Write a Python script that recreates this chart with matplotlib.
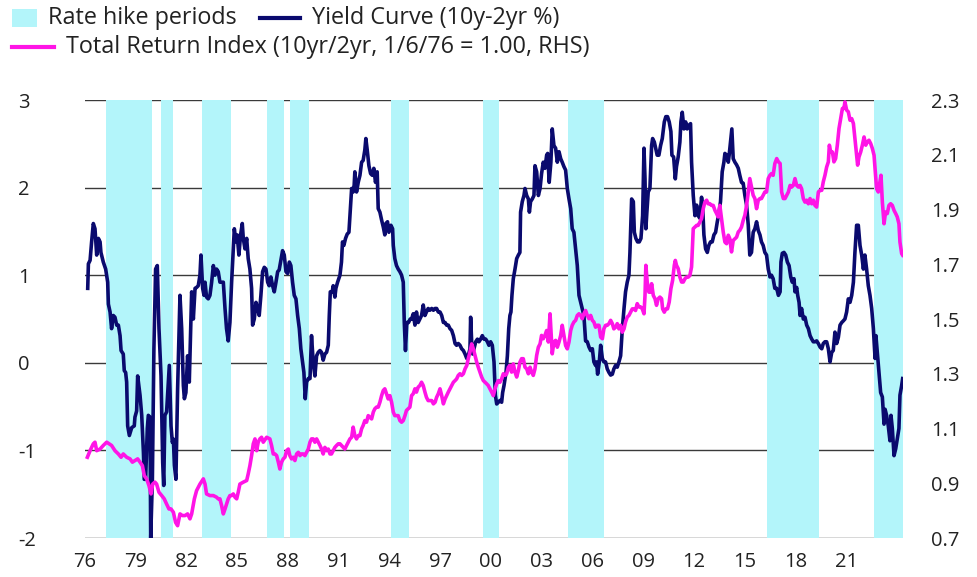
import matplotlib
matplotlib.use("Agg")
import matplotlib.pyplot as plt
from matplotlib.patches import Rectangle
from matplotlib.lines import Line2D

# ---------------- data ----------------
yc_t = [1976.19,1976.23,1976.33,1976.42,1976.52,1976.62,1976.72,1976.82,1976.92,1976.97,
        1977.11,1977.25,1977.37,1977.41,1977.51,1977.60,1977.70,1977.80,1977.90,1978.00,
        1978.10,1978.16,1978.29,1978.35,1978.43,1978.49,1978.55,1978.65,1978.79,1978.94,
        1978.98,1979.08,1979.14,1979.28,1979.38,1979.48,1979.53,1979.61,1979.71,1979.77,
        1979.87,1979.91,1980.01,1980.10,1980.20,1980.30,1980.40,1980.52,1980.62,1980.68,
        1980.75,1980.85,1980.95,1981.01,1981.11,1981.19,1981.25,1981.31,1981.40,1981.50,
        1981.64,1981.74,1981.84,1981.90,1981.99,1982.09,1982.19,1982.33,1982.43,1982.53,
        1982.62,1982.72,1982.82,1982.88,1982.98,1983.06,1983.12,1983.21,1983.31,1983.41,
        1983.51,1983.61,1983.71,1983.80,1983.90,1984.00,1984.10,1984.20,1984.30,1984.39,
        1984.49,1984.59,1984.69,1984.79,1984.85,1984.95,1985.02,1985.12,1985.22,1985.32,
        1985.38,1985.48,1985.58,1985.67,1985.77,1985.87,1985.93,1986.03,1986.13,1986.23,
        1986.32,1986.42,1986.52,1986.62,1986.72,1986.82,1986.91,1987.01,1987.11,1987.21,
        1987.31,1987.41,1987.50,1987.60,1987.70,1987.80,1987.90,1988.00,1988.10,1988.19,
        1988.29,1988.39,1988.49,1988.59,1988.69,1988.78,1988.88,1988.96,1989.04,1989.12,
        1989.22,1989.32,1989.41,1989.51,1989.61,1989.71,1989.81,1989.91,1990.00,1990.10,
        1990.20,1990.30,1990.40,1990.46,1990.52,1990.63,1990.69,1990.79,1990.85,1990.95,
        1991.09,1991.18,1991.24,1991.32,1991.42,1991.52,1991.62,1991.72,1991.78,1991.87,
        1991.93,1991.97,1992.07,1992.17,1992.27,1992.37,1992.46,1992.56,1992.62,1992.70,
        1992.80,1992.90,1993.00,1993.09,1993.19,1993.29,1993.35,1993.45,1993.55,1993.65,
        1993.74,1993.80,1993.90,1993.98,1994.10,1994.20,1994.24,1994.33,1994.43,1994.53,
        1994.63,1994.73,1994.83,1994.89,1994.96,1995.04,1995.14,1995.24,1995.32,1995.42,
        1995.52,1995.61,1995.71,1995.81,1995.91,1996.01,1996.11,1996.20,1996.30,1996.40,
        1996.51,1996.61,1996.71,1996.80,1996.90,1997.00,1997.10,1997.20,1997.30,1997.39,
        1997.49,1997.59,1997.69,1997.79,1997.89,1997.98,1998.08,1998.18,1998.28,1998.38,
        1998.48,1998.58,1998.67,1998.77,1998.81,1998.87,1998.93,1999.01,1999.11,1999.21,
        1999.30,1999.40,1999.50,1999.60,1999.70,1999.80,1999.89,1999.99,2000.09,2000.19,
        2000.27,2000.35,2000.45,2000.54,2000.64,2000.70,2000.78,2000.90,2000.98,2001.06,
        2001.13,2001.19,2001.25,2001.33,2001.43,2001.53,2001.63,2001.72,2001.76,2001.86,
        2001.96,2002.02,2002.12,2002.22,2002.28,2002.35,2002.45,2002.55,2002.61,2002.71,
        2002.81,2002.91,2003.00,2003.10,2003.20,2003.30,2003.36,2003.45,2003.55,2003.63,
        2003.73,2003.83,2003.93,2004.03,2004.13,2004.22,2004.32,2004.42,2004.52,2004.62,
        2004.72,2004.81,2004.91,2005.01,2005.11,2005.21,2005.31,2005.40,2005.50,2005.60,
        2005.70,2005.80,2005.90,2006.00,2006.09,2006.19,2006.25,2006.31,2006.41,2006.49,
        2006.59,2006.68,2006.78,2006.88,2006.98,2007.08,2007.18,2007.27,2007.37,2007.47,
        2007.57,2007.67,2007.77,2007.87,2007.96,2008.06,2008.16,2008.22,2008.32,2008.42,
        2008.48,2008.57,2008.67,2008.77,2008.87,2008.97,2009.05,2009.11,2009.16,2009.22,
        2009.30,2009.40,2009.50,2009.56,2009.66,2009.74,2009.83,2009.93,2010.03,2010.13,
        2010.25,2010.34,2010.44,2010.54,2010.64,2010.70,2010.80,2010.90,2010.97,2011.07,
        2011.17,2011.23,2011.31,2011.41,2011.51,2011.60,2011.70,2011.80,2011.86,2011.96,
        2012.06,2012.16,2012.25,2012.35,2012.45,2012.51,2012.59,2012.69,2012.79,2012.88,
        2012.98,2013.08,2013.18,2013.28,2013.38,2013.47,2013.57,2013.67,2013.77,2013.83,
        2013.93,2014.03,2014.08,2014.16,2014.24,2014.32,2014.42,2014.52,2014.62,2014.71,
        2014.81,2014.91,2015.01,2015.11,2015.21,2015.30,2015.40,2015.50,2015.60,2015.70,
        2015.80,2015.90,2015.99,2016.09,2016.19,2016.29,2016.39,2016.49,2016.58,2016.68,
        2016.78,2016.89,2016.99,2017.09,2017.14,2017.22,2017.32,2017.42,2017.52,2017.62,
        2017.72,2017.81,2017.91,2017.97,2018.07,2018.13,2018.21,2018.27,2018.36,2018.46,
        2018.56,2018.66,2018.76,2018.86,2018.96,2019.05,2019.15,2019.25,2019.35,2019.45,
        2019.55,2019.64,2019.74,2019.84,2019.94,2020.04,2020.14,2020.23,2020.33,2020.43,
        2020.53,2020.63,2020.73,2020.83,2020.92,2021.02,2021.12,2021.22,2021.32,2021.42,
        2021.51,2021.61,2021.71,2021.81,2021.91,2022.01,2022.10,2022.20,2022.30,2022.40,
        2022.50,2022.60,2022.70,2022.75,2022.83,2022.93,2023.03,2023.13,2023.23,2023.29,
        2023.38,2023.48,2023.58,2023.64,2023.72,2023.82,2023.92,2024.01,2024.11,2024.17,
        2024.27,2024.33]
yc_v = [0.85,1.13,1.17,1.38,1.59,1.53,1.23,1.42,1.38,1.26,
        1.15,1.07,0.92,0.67,0.58,0.39,0.54,0.52,0.43,0.43,
        0.31,0.14,0.10,-0.09,-0.11,-0.22,-0.72,-0.83,-0.74,-0.72,
        -0.62,-0.55,-0.15,-0.37,-0.60,-1.02,-1.33,-1.33,-0.75,-0.60,
        -0.62,-2.00,-1.33,0.16,1.07,1.11,0.39,-0.15,-1.14,-1.40,
        -0.60,-0.56,-0.22,-0.03,-0.72,-0.91,-0.87,-1.17,-1.33,-0.30,
        0.77,0.39,-0.26,-0.41,-0.34,0.08,-0.22,0.81,0.50,0.85,
        0.86,0.88,1.00,1.23,0.85,0.77,0.92,0.75,0.73,0.77,
        0.92,1.11,1.00,1.07,1.04,0.92,0.92,0.92,0.62,0.39,
        0.25,0.46,0.92,1.30,1.53,1.38,1.46,1.23,1.46,1.59,
        1.42,1.30,1.42,1.19,1.07,0.85,0.43,0.50,0.69,0.62,
        0.54,0.77,1.04,1.09,1.07,0.92,0.88,0.98,0.88,0.81,
        0.92,1.04,1.06,1.17,1.28,1.23,1.04,1.02,1.15,1.11,
        0.92,0.77,0.73,0.54,0.39,0.16,0.01,-0.11,-0.41,-0.22,
        -0.18,-0.18,0.31,0.01,-0.15,0.08,0.12,0.14,0.12,0.03,
        0.10,0.12,0.20,0.54,0.81,0.81,0.88,0.75,0.85,0.92,
        1.00,1.15,1.38,1.34,1.42,1.47,1.49,1.80,1.99,1.95,
        2.03,2.18,1.95,2.06,2.14,2.29,2.31,2.43,2.56,2.43,
        2.25,2.16,2.14,2.22,2.06,2.18,1.76,1.72,1.63,1.55,
        1.46,1.59,1.61,1.49,1.57,1.53,1.34,1.19,1.11,1.07,
        1.04,1.00,0.92,0.46,0.14,0.46,0.46,0.50,0.50,0.56,
        0.43,0.58,0.46,0.50,0.54,0.66,0.54,0.58,0.62,0.60,
        0.62,0.60,0.62,0.62,0.58,0.58,0.54,0.46,0.46,0.43,
        0.43,0.39,0.37,0.31,0.22,0.20,0.22,0.20,0.16,0.14,
        0.10,0.05,0.08,0.16,0.52,0.24,0.10,0.16,0.24,0.27,
        0.24,0.27,0.31,0.27,0.27,0.24,0.20,0.24,0.20,0.01,
        -0.37,-0.47,-0.45,-0.43,-0.45,-0.34,-0.26,-0.11,0.08,0.39,
        0.54,0.58,0.77,0.96,1.07,1.19,1.23,1.26,1.72,1.84,
        1.91,1.99,1.91,1.87,1.72,1.84,1.87,1.91,2.25,2.18,
        1.91,1.99,2.16,2.29,2.22,2.37,2.39,2.06,2.29,2.67,
        2.48,2.45,2.29,2.41,2.33,2.29,2.24,2.20,1.99,1.87,
        1.76,1.53,1.49,1.30,1.11,0.77,0.69,0.62,0.54,0.25,
        0.24,0.18,0.14,0.16,0.01,-0.03,0.01,-0.13,0.01,0.20,
        0.05,0.01,0.01,-0.07,-0.11,-0.14,-0.13,-0.07,-0.03,-0.05,
        0.01,0.08,0.39,0.62,0.81,0.92,1.00,1.26,1.87,1.84,
        1.49,1.42,1.38,1.38,1.42,1.68,2.45,2.10,1.53,1.72,
        1.95,1.99,2.48,2.56,2.52,2.45,2.37,2.37,2.48,2.56,
        2.75,2.81,2.81,2.75,2.64,2.37,2.35,2.10,2.24,2.35,
        2.52,2.75,2.86,2.67,2.75,2.67,2.71,2.73,2.29,1.91,
        1.68,1.80,1.68,1.65,1.89,1.80,1.46,1.30,1.26,1.34,
        1.38,1.38,1.46,1.49,1.61,1.70,1.84,2.18,2.29,2.39,
        2.37,2.29,2.37,2.52,2.67,2.33,2.29,2.26,2.22,2.14,
        2.06,2.05,1.91,1.80,1.57,1.23,1.26,1.49,1.53,1.61,
        1.51,1.46,1.38,1.34,1.26,1.23,1.07,0.98,1.00,0.96,
        0.85,0.85,0.77,0.81,1.15,1.25,1.26,1.23,1.15,1.11,
        0.98,0.92,0.96,0.81,0.86,0.77,0.69,0.54,0.62,0.50,
        0.52,0.43,0.39,0.31,0.27,0.24,0.24,0.25,0.22,0.18,
        0.16,0.22,0.24,0.24,0.16,0.01,0.12,0.14,0.35,0.22,
        0.29,0.43,0.46,0.48,0.50,0.58,0.73,0.69,0.77,0.92,
        1.26,1.57,1.57,1.34,1.23,1.07,1.23,1.07,0.88,0.77,
        0.62,0.39,0.05,0.31,0.12,-0.11,-0.34,-0.39,-0.70,-0.53,
        -0.60,-0.72,-0.89,-0.60,-0.75,-1.06,-0.98,-0.87,-0.75,-0.37,
        -0.26,-0.18]

tr_t = [1976.17,1976.33,1976.52,1976.62,1976.72,1976.92,1977.11,1977.31,1977.45,1977.60,
        1977.80,1978.00,1978.16,1978.29,1978.49,1978.69,1978.83,1978.98,1979.14,1979.28,
        1979.42,1979.53,1979.67,1979.81,1979.93,1980.03,1980.16,1980.26,1980.40,1980.56,
        1980.71,1980.85,1980.99,1981.11,1981.25,1981.38,1981.50,1981.64,1981.78,1981.94,
        1982.09,1982.23,1982.33,1982.49,1982.62,1982.82,1983.02,1983.12,1983.21,1983.41,
        1983.61,1983.80,1983.90,1984.00,1984.10,1984.20,1984.30,1984.39,1984.49,1984.59,
        1984.69,1984.79,1984.89,1984.99,1985.08,1985.18,1985.38,1985.58,1985.67,1985.77,
        1985.87,1985.97,1986.07,1986.17,1986.26,1986.36,1986.46,1986.56,1986.76,1986.95,
        1987.05,1987.15,1987.25,1987.35,1987.45,1987.54,1987.64,1987.74,1987.84,1987.94,
        1988.04,1988.13,1988.23,1988.33,1988.43,1988.53,1988.63,1988.73,1988.82,1988.92,
        1989.02,1989.12,1989.22,1989.32,1989.41,1989.51,1989.61,1989.71,1989.81,1989.91,
        1990.00,1990.10,1990.20,1990.30,1990.40,1990.50,1990.59,1990.69,1990.79,1990.89,
        1990.99,1991.09,1991.18,1991.28,1991.38,1991.48,1991.58,1991.68,1991.78,1991.87,
        1991.97,1992.07,1992.17,1992.27,1992.37,1992.46,1992.56,1992.66,1992.76,1992.86,
        1992.96,1993.06,1993.15,1993.25,1993.35,1993.45,1993.55,1993.65,1993.74,1993.84,
        1993.94,1994.04,1994.14,1994.24,1994.33,1994.43,1994.53,1994.63,1994.73,1994.83,
        1994.93,1995.02,1995.12,1995.22,1995.32,1995.42,1995.52,1995.61,1995.71,1995.81,
        1995.91,1996.01,1996.11,1996.20,1996.30,1996.40,1996.51,1996.61,1996.71,1996.80,
        1996.90,1997.00,1997.10,1997.20,1997.30,1997.39,1997.49,1997.59,1997.69,1997.79,
        1997.89,1997.98,1998.08,1998.18,1998.28,1998.38,1998.48,1998.58,1998.67,1998.77,
        1998.87,1998.97,1999.07,1999.17,1999.26,1999.36,1999.46,1999.56,1999.66,1999.76,
        1999.85,1999.95,2000.05,2000.15,2000.25,2000.35,2000.45,2000.54,2000.64,2000.74,
        2000.84,2000.94,2001.04,2001.13,2001.23,2001.33,2001.43,2001.53,2001.63,2001.72,
        2001.82,2001.92,2002.02,2002.12,2002.22,2002.32,2002.41,2002.51,2002.61,2002.71,
        2002.81,2002.91,2003.00,2003.10,2003.20,2003.30,2003.40,2003.50,2003.55,2003.63,
        2003.73,2003.83,2003.93,2004.03,2004.13,2004.22,2004.32,2004.42,2004.52,2004.62,
        2004.72,2004.81,2004.91,2005.01,2005.11,2005.21,2005.31,2005.40,2005.50,2005.60,
        2005.70,2005.80,2005.90,2006.00,2006.09,2006.19,2006.29,2006.39,2006.49,2006.59,
        2006.68,2006.78,2006.88,2006.98,2007.08,2007.18,2007.27,2007.37,2007.47,2007.57,
        2007.67,2007.77,2007.87,2007.96,2008.06,2008.16,2008.26,2008.36,2008.46,2008.55,
        2008.65,2008.75,2008.85,2008.95,2009.05,2009.11,2009.16,2009.24,2009.34,2009.44,
        2009.50,2009.60,2009.70,2009.79,2009.89,2009.99,2010.09,2010.15,2010.25,2010.34,
        2010.44,2010.54,2010.64,2010.74,2010.84,2010.90,2010.97,2011.07,2011.17,2011.27,
        2011.37,2011.47,2011.56,2011.66,2011.76,2011.86,2011.96,2012.06,2012.16,2012.25,
        2012.35,2012.45,2012.55,2012.65,2012.75,2012.84,2012.94,2013.04,2013.14,2013.24,
        2013.34,2013.43,2013.53,2013.63,2013.73,2013.83,2013.93,2014.03,2014.12,2014.22,
        2014.32,2014.42,2014.52,2014.62,2014.71,2014.81,2014.91,2015.01,2015.11,2015.21,
        2015.30,2015.40,2015.50,2015.60,2015.70,2015.80,2015.90,2015.99,2016.09,2016.19,
        2016.29,2016.39,2016.49,2016.58,2016.68,2016.78,2016.89,2016.99,2017.09,2017.18,
        2017.28,2017.38,2017.48,2017.58,2017.68,2017.77,2017.87,2017.97,2018.07,2018.17,
        2018.27,2018.36,2018.46,2018.56,2018.66,2018.76,2018.86,2018.96,2019.05,2019.15,
        2019.25,2019.35,2019.45,2019.55,2019.64,2019.74,2019.84,2019.94,2020.00,2020.08,
        2020.18,2020.27,2020.37,2020.47,2020.57,2020.67,2020.77,2020.86,2020.92,2021.02,
        2021.12,2021.22,2021.32,2021.42,2021.51,2021.61,2021.67,2021.75,2021.85,2021.95,
        2022.05,2022.15,2022.24,2022.34,2022.44,2022.54,2022.64,2022.70,2022.79,2022.89,
        2022.99,2023.05,2023.13,2023.23,2023.32,2023.42,2023.52,2023.62,2023.72,2023.82,
        2023.92,2024.01,2024.11,2024.17,2024.27,2024.33]
tr_v = [0.995,1.019,1.044,1.050,1.019,1.025,1.038,1.050,1.044,1.038,
        1.019,1.007,0.995,1.007,0.995,0.989,0.977,0.983,0.989,0.977,
        0.964,0.928,0.916,0.891,0.861,0.897,0.904,0.897,0.867,0.855,
        0.843,0.824,0.806,0.806,0.794,0.757,0.745,0.788,0.782,0.782,
        0.788,0.770,0.788,0.843,0.873,0.897,0.916,0.897,0.861,0.855,
        0.855,0.849,0.843,0.843,0.818,0.788,0.806,0.824,0.843,0.855,
        0.855,0.861,0.849,0.843,0.867,0.897,0.904,0.910,0.934,0.964,
        1.001,1.044,1.062,1.019,1.050,1.062,1.068,1.050,1.068,1.062,
        1.038,1.007,1.007,1.001,0.977,0.952,0.977,0.989,0.995,1.019,
        1.025,1.001,0.989,0.995,0.983,1.007,1.013,1.001,1.007,1.007,
        1.001,1.013,1.025,1.050,1.062,1.062,1.050,1.062,1.050,1.038,
        1.025,1.007,1.031,1.019,1.025,1.007,1.007,1.019,1.031,1.038,
        1.044,1.044,1.038,1.031,1.025,1.038,1.050,1.062,1.068,1.105,
        1.074,1.062,1.074,1.074,1.099,1.111,1.129,1.123,1.147,1.141,
        1.135,1.160,1.172,1.178,1.178,1.196,1.220,1.239,1.245,1.227,
        1.208,1.220,1.196,1.160,1.147,1.147,1.147,1.129,1.123,1.129,
        1.147,1.166,1.172,1.178,1.220,1.227,1.245,1.233,1.251,1.257,
        1.269,1.257,1.233,1.214,1.202,1.202,1.202,1.190,1.196,1.214,
        1.227,1.245,1.220,1.190,1.208,1.220,1.233,1.245,1.257,1.269,
        1.275,1.281,1.294,1.300,1.294,1.300,1.318,1.330,1.355,1.379,
        1.409,1.391,1.367,1.342,1.324,1.306,1.288,1.275,1.269,1.263,
        1.257,1.245,1.233,1.220,1.245,1.263,1.275,1.269,1.281,1.300,
        1.294,1.300,1.324,1.330,1.306,1.336,1.306,1.288,1.312,1.342,
        1.355,1.355,1.324,1.318,1.300,1.324,1.306,1.294,1.318,1.367,
        1.397,1.409,1.440,1.428,1.440,1.458,1.416,1.519,1.464,1.373,
        1.416,1.422,1.397,1.416,1.440,1.477,1.440,1.403,1.391,1.416,
        1.458,1.477,1.489,1.495,1.513,1.519,1.513,1.501,1.519,1.531,
        1.513,1.501,1.513,1.495,1.489,1.470,1.477,1.477,1.434,1.428,
        1.464,1.477,1.477,1.483,1.495,1.483,1.464,1.470,1.483,1.464,
        1.477,1.452,1.464,1.489,1.507,1.513,1.525,1.537,1.537,1.531,
        1.556,1.544,1.544,1.537,1.519,1.586,1.696,1.635,1.598,1.598,
        1.629,1.586,1.574,1.550,1.574,1.580,1.574,1.537,1.525,1.537,
        1.537,1.562,1.611,1.641,1.696,1.714,1.696,1.684,1.653,1.635,
        1.635,1.647,1.653,1.653,1.659,1.690,1.830,1.836,1.842,1.842,
        1.854,1.867,1.903,1.927,1.934,1.921,1.921,1.915,1.915,1.897,
        1.885,1.873,1.915,1.867,1.818,1.781,1.775,1.806,1.793,1.745,
        1.787,1.793,1.799,1.818,1.824,1.836,1.860,1.879,1.915,1.964,
        2.013,1.982,1.952,1.940,1.903,1.934,1.940,1.940,1.952,1.964,
        1.964,2.013,2.025,2.031,2.025,2.068,2.086,2.074,2.068,1.964,
        1.940,1.940,1.952,1.964,1.988,1.982,1.988,2.013,1.988,1.982,
        1.988,1.976,1.940,1.927,1.934,1.921,1.940,1.921,1.934,1.915,
        1.909,1.964,1.970,1.970,2.001,2.025,2.055,2.074,2.135,2.110,
        2.110,2.074,2.086,2.135,2.196,2.232,2.269,2.269,2.293,2.263,
        2.257,2.226,2.232,2.214,2.159,2.098,2.062,2.092,2.110,2.135,
        2.165,2.135,2.147,2.153,2.141,2.123,2.098,2.049,1.976,1.964,
        2.001,2.025,1.927,1.848,1.891,1.885,1.915,1.921,1.915,1.897,
        1.885,1.873,1.848,1.781,1.739,1.733]

hike_start = [1977.27, 1980.50, 1982.96, 1986.79, 1988.14, 1994.10, 1999.52, 2004.57, 2016.31, 2022.64]
hike_end   = [1979.98, 1981.22, 1984.67, 1987.76, 1989.26, 1995.16, 2000.48, 2006.68, 2019.39, 2024.40]

tick_years  = [1976, 1979, 1982, 1985, 1988, 1991, 1994, 1997, 2000, 2003, 2006, 2009, 2012, 2015, 2018, 2021]
tick_labels = ["76", "79", "82", "85", "88", "91", "94", "97", "00", "03", "06", "09", "12", "15", "18", "21"]
left_ticks  = [-2, -1, 0, 1, 2, 3]
right_ticks = [0.7, 0.9, 1.1, 1.3, 1.5, 1.7, 1.9, 2.1, 2.3]

# ---------------- style ----------------
NAVY = "#0a0a6e"
MAGENTA = "#ff14e6"
CYAN = "#b3f5fa"
GRID = "#3a3a3a"
TXT = "#222222"
plt.rcParams["font.family"] = ["Open Sans", "DejaVu Sans"]

W, H = 977, 577
fig = plt.figure(figsize=(W / 100, H / 100), dpi=100)
x0, x1, y0, y1 = 84.5, 903, 100, 538
ax = fig.add_axes([x0 / W, 1 - y1 / H, (x1 - x0) / W, (y1 - y0) / H])
ax2 = ax.twinx()

ax.set_xlim(1976.0, 2024.35)
ax.set_ylim(-2, 3)
ax2.set_ylim(0.7, 2.3)

for v in left_ticks:
    ax.axhline(v, color=GRID, lw=1.0, zorder=1)
for s, e in zip(hike_start, hike_end):
    ax.axvspan(s, min(e, 2024.35), color=CYAN, lw=0, zorder=2)

ax.plot(yc_t, yc_v, color=NAVY, lw=2.6, zorder=3, solid_joinstyle="round")
ax2.plot(tr_t, tr_v, color=MAGENTA, lw=2.6, zorder=3, solid_joinstyle="round")

for a in (ax, ax2):
    for sp in a.spines.values():
        sp.set_visible(False)

ax.set_xticks(tick_years)
ax.set_xticklabels(tick_labels)
ax.set_yticks(left_ticks)
ax.set_yticklabels([str(v) for v in left_ticks])
ax2.set_yticks(right_ticks)
ax2.set_yticklabels([f"{v:.1f}" for v in right_ticks])

ax.tick_params(axis="x", length=0, pad=10, labelsize=14.5, labelcolor=TXT)
ax.tick_params(axis="y", length=0, pad=48, labelsize=14.5, labelcolor=TXT)
for lbl in ax.get_yticklabels():
    lbl.set_horizontalalignment("left")
ax2.tick_params(axis="y", length=0, pad=20, labelsize=14.5, labelcolor=TXT)

# ---------------- legend (figure pixel coordinates) ----------------
def fx(px):
    return px / W

def fy(py):
    return 1 - py / H

LFS = 16.8
fig.patches.append(Rectangle((fx(12), fy(27)), fx(37) - fx(12), fy(9) - fy(27),
                             transform=fig.transFigure, facecolor=CYAN, edgecolor="none"))
fig.text(fx(48), fy(18), "Rate hike periods", fontsize=LFS, color=TXT, va="center", ha="left")
fig.lines.append(Line2D([fx(260), fx(300)], [fy(18), fy(18)], transform=fig.transFigure,
                        color=NAVY, lw=3))
fig.text(fx(312), fy(18), "Yield Curve (10y-2yr %)", fontsize=LFS, color=TXT, va="center", ha="left")
fig.lines.append(Line2D([fx(12), fx(54)], [fy(47), fy(47)], transform=fig.transFigure,
                        color=MAGENTA, lw=3))
fig.text(fx(66), fy(47), "Total Return Index (10yr/2yr, 1/6/76 = 1.00, RHS)", fontsize=LFS,
         color=TXT, va="center", ha="left")

fig.savefig("out.png", dpi=100)
